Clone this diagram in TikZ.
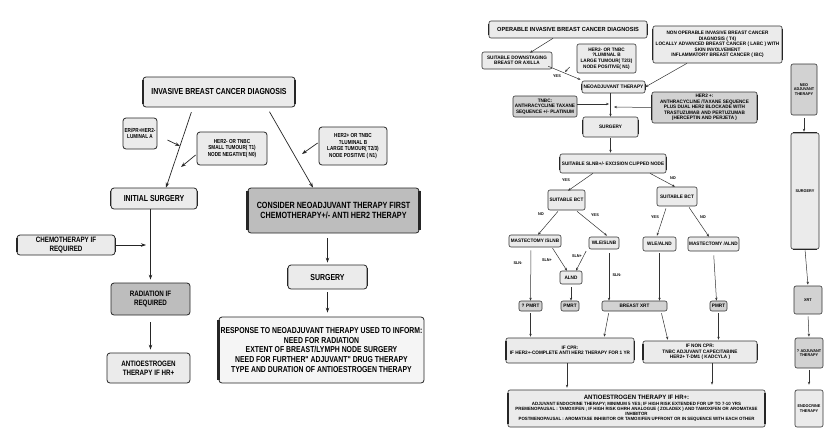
\documentclass[tikz,border=0pt]{standalone}
\usepackage{fontspec}
\setmainfont{Liberation Sans}
\newfontfamily\narrowfont{Liberation Sans}[FakeStretch=0.8]
\newfontfamily\rfont{Liberation Sans}[FakeStretch=0.95]
\usetikzlibrary{arrows.meta}
\newcommand\fs[2]{\fontsize{#1}{#2}\selectfont}
\newcommand\lbar[2][2pt]{\draw[line width=#1,black!85] ([yshift=-3pt]#2.north west) -- ([yshift=3pt]#2.south west);}
\newcommand\rbar[2][2pt]{\draw[line width=#1,black!85] ([yshift=-3pt]#2.north east) -- ([yshift=3pt]#2.south east);}
\definecolor{lightf}{HTML}{EBEBEB}
\definecolor{grayf}{HTML}{BDBDBD}
\definecolor{midf}{HTML}{D2D2D2}
\begin{document}
\begin{tikzpicture}[x=1pt,y=-1pt,
  sz/.style 2 args={minimum width=#1pt, minimum height=#2pt},
  box/.style={draw=black!85, line width=0.8pt, rounded corners=3pt, fill=lightf, inner sep=1pt, align=center, font=\narrowfont\bfseries\fs{8.7}{9.7}},
  sbox/.style={box, font=\narrowfont\bfseries\fs{5.8}{6.6}},
  rbox/.style={draw=black!80, line width=0.6pt, rounded corners=2pt, fill=lightf, inner sep=0.5pt, align=center, font=\rfont\bfseries\fs{4.9}{5.6}},
  cbox/.style={rbox, font=\rfont\bfseries\fs{4}{4.8}},
  arr/.style={-{Stealth[length=5pt,width=3.5pt]}, line width=0.7pt, black!85},
  rarr/.style={-{Stealth[length=3pt,width=2.4pt]}, line width=0.5pt, black!80},
  lab/.style={font=\rfont\bfseries\fs{4}{4.6}, inner sep=0pt}]
\useasboundingbox (0,0) rectangle (838,440);
\fill[white] (0,0) rectangle (838,440);

% ---------------- left diagram ----------------
\node[box, sz={152}{30}] (diag) at (219,92) {INVASIVE BREAST CANCER DIAGNOSIS};
\lbar{diag}\rbar{diag}
\node[sbox, sz={34}{31}] (lumA) at (140,133.5) {ER/PR+HER2-\\LUMINAL A};
\node[sbox, sz={70}{33}] (her2neg) at (232,148.5) {HER2- OR TNBC\\SMALL TUMOUR( T1)\\NODE NEGATIVE( N0)};
\node[sbox, sz={68}{38}] (her2pos) at (353,146) {HER2+ OR TNBC\\?LUMINAL B\\LARGE TUMOUR( T2/3)\\NODE POSITIVE ( N1)};
\node[box, sz={86}{21}] (init) at (154,198.5) {INITIAL SURGERY};
\lbar[1.5pt]{init}\rbar[1.5pt]{init}
\node[box, sz={171}{45}, fill=grayf, font=\narrowfont\bfseries\fs{9}{10}] (consider) at (333.5,210.5) {CONSIDER NEOADJUVANT THERAPY FIRST\\CHEMOTHERAPY+/- ANTI HER2 THERAPY};
\lbar[2.5pt]{consider}\rbar[2.5pt]{consider}
\node[box, sz={98}{20}, font=\narrowfont\bfseries\fs{7.8}{8.6}] (chemo) at (66,245) {CHEMOTHERAPY IF\\REQUIRED};
\lbar[2.2pt]{chemo}\rbar[1.5pt]{chemo}
\node[box, sz={79}{32}, fill=grayf, font=\narrowfont\bfseries\fs{7.8}{8.8}] (rad) at (150.5,299) {RADIATION IF\\REQUIRED};
\node[box, sz={83}{30}, font=\narrowfont\bfseries\fs{7.8}{8.8}] (antiL) at (148.5,368) {ANTIOESTROGEN\\THERAPY IF HR+};
\node[box, sz={79}{24}] (surgL) at (327.5,277) {SURGERY};
\lbar[1.5pt]{surgL}\rbar[1.5pt]{surgL}
\node[box, sz={205}{66}, fill=white!96!black, font=\narrowfont\bfseries\fs{8.6}{9.8}] (resp) at (321.5,350) {RESPONSE TO NEOADJUVANT THERAPY USED TO INFORM:\\NEED FOR RADIATION\\EXTENT OF BREAST/LYMPH NODE SURGERY\\NEED FOR FURTHER" ADJUVANT" DRUG THERAPY\\TYPE AND DURATION OF ANTIOESTROGEN THERAPY};
\lbar[2.8pt]{resp}

\coordinate (p1) at (180,146);
\coordinate (p2) at (181,167);
\coordinate (p3) at (302,154);
\coordinate (p4) at (146,245);
\draw[arr, shorten <=5pt] ([xshift=-26pt]diag.south) -- ([xshift=12pt]init.north);
\draw[arr, shorten <=5pt] ([xshift=48pt]diag.south) -- ([xshift=-20.5pt]consider.north);
\draw[arr] (lumA.east) ++(10,6.5) -- (p1);
\draw[arr] (her2neg.west) ++(-1,6.5) -- (p2);
\draw[arr] (her2pos.west) ++(-1,-3) -- (p3);
\draw[arr] (chemo.east) -- (p4);
\draw[arr, shorten >=3pt] (rad.north |- init.south) -- (rad.north);
\draw[arr, shorten <=7pt, shorten >=3pt] (rad.south) -- (rad.south |- antiL.north);
\draw[arr, shorten <=5pt, shorten >=2pt] (surgL.north |- consider.south) -- (surgL.north);
\draw[arr, shorten <=3pt, shorten >=4pt] (surgL.south) -- (surgL.south |- resp.north);

% ---------------- right diagram ----------------
\node[rbox, sz={158}{17}, font=\rfont\bfseries\fs{5.9}{6.5}] (oper) at (568,29.5) {OPERABLE INVASIVE BREAST CANCER DIAGNOSIS};
\lbar[1.5pt]{oper}\rbar[1.5pt]{oper}
\node[rbox, sz={70}{17}] (down) at (517,60.5) {SUITABLE DOWNSTAGING\\BREAST OR AXILLA};
\node[rbox, sz={59}{29}] (her2r) at (606.5,58.5) {HER2- OR TNBC\\?LUMINAL B\\LARGE TUMOUR( T2/3)\\NODE POSITIVE( N1)};
\node[rbox, sz={63}{12}, font=\rfont\bfseries\fs{5}{5.6}] (neo) at (613.5,87) {NEOADJUVANT THERAPY};
\lbar[1.3pt]{neo}\rbar[1.3pt]{neo}
\node[rbox, sz={129}{37}] (nonop) at (717.5,44.5) {NON OPERABLE INVASIVE BREAST CANCER\\DIAGNOSIS ( T4)\\LOCALLY ADVANCED BREAST CANCER ( LABC ) WITH\\SKIN INVOLVEMENT\\INFLAMMATORY BREAST CANCER ( IBC)};
\lbar[1.5pt]{nonop}\rbar[1.5pt]{nonop}
\node[rbox, sz={64}{21}, fill=midf] (tnbc) at (545,106.5) {TNBC:\\ANTHRACYCLINE TAXANE\\SEQUENCE +/- PLATINUM};
\node[rbox, sz={105}{31}, fill=midf] (her2p) at (704.5,107.5) {HER2 +:\\ANTHRACYCLINE /TAXANE SEQUENCE\\PLUS DUAL HER2 BLOCKADE WITH\\TRASTUZUMAB AND PERTUZUMAB\\(HERCEPTIN AND PERJETA )};
\lbar[1.3pt]{her2p}\rbar[1.3pt]{her2p}
\node[rbox, sz={55}{20}] (surgR) at (610.5,127) {SURGERY};
\lbar[1.2pt]{surgR}\rbar[1.2pt]{surgR}
\node[rbox, sz={106}{19}] (slnb) at (613,163.5) {SUITABLE SLNB+/- EXCISION CLIPPED NODE};
\lbar[1.5pt]{slnb}\rbar[1.5pt]{slnb}
\node[rbox, sz={37}{20}] (bctL) at (566.5,200) {SUITABLE BCT};
\node[rbox, sz={40}{19}] (bctR) at (677,196.5) {SUITABLE BCT};
\node[rbox, sz={52}{12}] (mastS) at (535,241) {MASTECTOMY /SLNB};
\node[rbox, sz={30}{12}] (wleS) at (604,243) {WLE/SLNB};
\node[rbox, sz={22}{13}] (alnd) at (571,277.5) {ALND};
\node[rbox, sz={33}{14}] (wleA) at (659.5,244) {WLE/ALND};
\node[rbox, sz={51}{14}] (mastA) at (713.5,244) {MASTECTOMY /ALND};
\node[rbox, sz={23}{10}, fill=midf] (qpmrt) at (530.5,306) {? PMRT};
\node[rbox, sz={18}{10}, fill=midf] (pmrt1) at (570,306) {PMRT};
\node[rbox, sz={65}{10}, fill=midf] (bxrt) at (634.5,306) {BREAST XRT};
\node[rbox, sz={17}{10}, fill=midf] (pmrt2) at (718.5,306) {PMRT};
\node[rbox, sz={128}{25}] (cpr) at (570,350.5) {IF CPR:\\IF HER2+-COMPLETE ANTI HER2 THERAPY FOR 1 YR};
\lbar[1.6pt]{cpr}\rbar[1.6pt]{cpr}
\node[rbox, sz={114}{22}] (ncpr) at (700,352) {IF NON CPR:\\TNBC ADJUVANT CAPECITABINE\\HER2+ T-DM1 ( KADCYLA )};
\lbar[1.6pt]{ncpr}\rbar[1.6pt]{ncpr}
\node[rbox, sz={257}{37}, font=\rfont\bfseries\fs{4.6}{5.2}] (anti) at (636.5,408.5) {{\fs{6.3}{7}ANTIOESTROGEN THERAPY IF HR+:}\\ADJUVANT ENDOCRINE THERAPY; MINIMUM 5 YES; IF HIGH RISK EXTENDED FOR UP TO 7-10 YRS\\PREMENOPAUSAL : TAMOXIFEN ; IF HIGH RISK GHRH ANALOGUE ( ZOLADEX ) AND TAMOXIFEN OR AROMATASE\\INHIBITOR\\POSTMENOPAUSAL : AROMATASE INHIBITOR OR TAMOXIFEN UPFRONT OR IN SEQUENCE WITH EACH OTHER};
\lbar[2pt]{anti}\rbar[2pt]{anti}

% right column
\node[cbox, sz={26}{51}, fill=midf] (neoC) at (804,89.5) {NEO\\ADJUVANT\\THERAPY};
\node[cbox, sz={28}{116}] (surgC) at (805,191) {SURGERY};
\draw[line width=1.6pt, black!85] ([xshift=2pt]surgC.south west) -- ([xshift=-2pt]surgC.south east);
\draw[line width=1.4pt, black!85] ([xshift=2pt]surgC.north west) -- ([xshift=-2pt]surgC.north east);
\node[cbox, sz={28}{28}, fill=midf] (xrtC) at (808,300) {XRT};
\node[cbox, sz={28}{30}, fill=midf] (adjC) at (809,353) {? ADJUVANT\\THERAPY};
\node[cbox, sz={28}{37}] (endoC) at (809,408.5) {ENDOCRINE\\THERAPY};

% right connectors
\coordinate (q1) at (565,72);
\coordinate (q2) at (609,104);
\coordinate (q3) at (614,107);
\draw[rarr] ([xshift=-15pt]oper.south) -- ([xshift=13pt,yshift=-1pt]down.north);
\draw[rarr] (down.south east) ++(-4,-3) -- ([xshift=-1pt,yshift=1pt]neo.north west);
\draw[rarr] (her2r.west) ++(-7,8.5) -- (q1);
\draw[rarr] ([xshift=-30.5pt]nonop.south) -- (neo.east);
\draw[rarr] (tnbc.east) ++(0,-2.5) -- (q2);
\draw[rarr] (her2p.west) -- (q3);
\draw[rarr] (surgR.north |- neo.south) -- (surgR.north);
\draw[rarr, shorten <=1pt, shorten >=1pt] (surgR.south) -- (surgR.south |- slnb.north);
\draw[rarr] ([xshift=-20pt]slnb.south) -- ([xshift=1.5pt,yshift=-1pt]bctL.north);
\draw[rarr] ([xshift=37pt]slnb.south) -- ([xshift=-2pt]bctR.north);
\draw[rarr] ([xshift=-8.5pt,yshift=-1pt]bctL.south) -- ([xshift=3pt]mastS.north);
\draw[rarr] ([xshift=10.5pt,yshift=-1pt]bctL.south) -- ([xshift=3pt,yshift=1pt]wleS.north);
\draw[rarr] ([xshift=-11pt,yshift=-2pt]bctR.south) -- ([xshift=-2.5pt,yshift=1pt]wleA.north);
\draw[rarr] ([xshift=12pt,yshift=-1pt]bctR.south) -- ([xshift=-4.5pt]mastA.north);
\draw[rarr, shorten <=3pt] ([xshift=-4pt]mastS.south) -- (qpmrt.north);
\draw[rarr, shorten <=1pt] ([xshift=17pt]mastS.south) -- ([xshift=-4pt]alnd.north);
\draw[rarr, shorten <=2pt] ([xshift=-17pt]wleS.south) -- ([xshift=5pt]alnd.north);
\draw[rarr, shorten <=4pt] ([xshift=5pt]wleS.south) -- ([xshift=5pt]wleS.south |- bxrt.north);
\draw[rarr, shorten <=3pt] (alnd.south) -- (alnd.south |- pmrt1.north);
\draw[rarr, shorten <=2pt] (wleA.south) -- (wleA.south |- bxrt.north);
\draw[rarr, shorten <=4pt] (mastA.south) -- ([xshift=-2pt]pmrt2.north);
\draw[rarr, shorten <=2pt, shorten >=1pt] (qpmrt.south) -- (qpmrt.south |- cpr.north);
\draw[rarr, shorten <=2pt, shorten >=1pt] ([xshift=-25.5pt]bxrt.south) -- ([xshift=34pt]cpr.north);
\draw[rarr, shorten <=2pt, shorten >=1pt] ([xshift=26.5pt]bxrt.south) -- ([xshift=-32pt]ncpr.north);
\draw[rarr, shorten <=2pt, shorten >=1pt] (pmrt2.south) -- (pmrt2.south |- ncpr.north);
\draw[rarr, shorten >=2pt] ([xshift=-3pt]cpr.south) -- ([xshift=-3pt]cpr.south |- anti.north);
\draw[rarr, shorten >=5pt] ([xshift=12pt]ncpr.south) -- ([xshift=12pt]ncpr.south |- anti.north);
\draw[rarr, shorten <=3pt, shorten >=1pt] (neoC.south) -- (neoC.south |- surgC.north);
\draw[rarr, shorten <=1pt, shorten >=1pt] (surgC.south) -- (xrtC.north);
\draw[rarr, shorten <=2pt, shorten >=1pt] (xrtC.south) -- (adjC.north);
\draw[rarr, shorten <=2pt, shorten >=5pt] (adjC.south) -- (endoC.north);

% edge labels
\node[lab] (lyes0) at (557,76) {YES};
\node[lab] (lyes1) at (566,180) {YES};
\node[lab] (lno1) at (673,178) {NO};
\node[lab] (lno2) at (541,214) {NO};
\node[lab] (lyes2) at (595,215) {YES};
\node[lab] (lyes3) at (655,217) {YES};
\node[lab] (lno3) at (703,217) {NO};
\node[lab] (lsln1) at (518,263) {SLN-};
\node[lab] (lsln2) at (547,260) {SLN+};
\node[lab] (lsln3) at (577,256) {SLN+};
\node[lab] (lsln4) at (617,275) {SLN-};
\end{tikzpicture}
\end{document}
